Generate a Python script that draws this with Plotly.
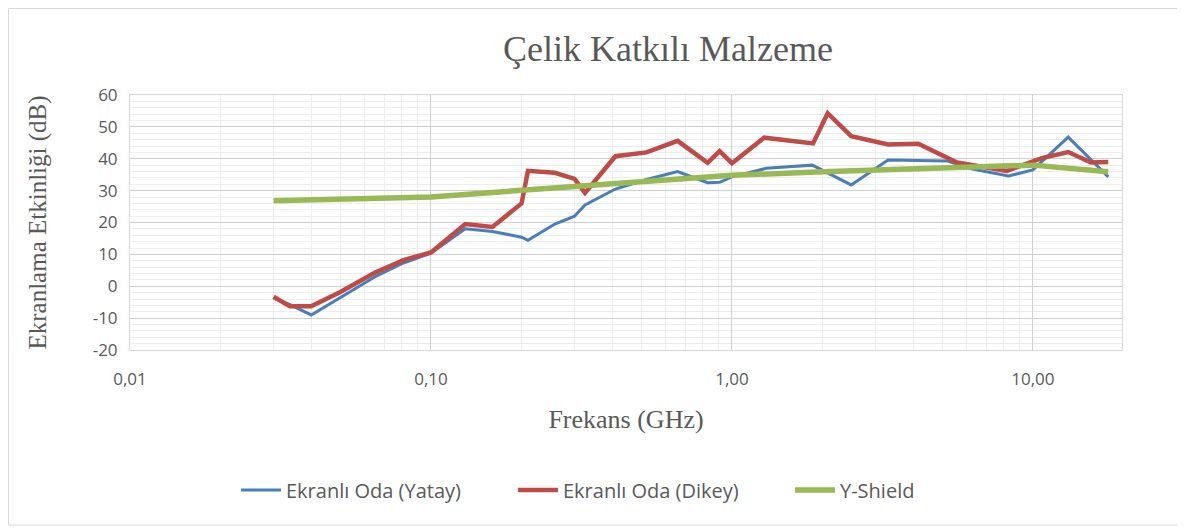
import plotly.graph_objects as go

# Data (frequency in GHz, shielding effectiveness in dB)
yatay_f = [0.03, 0.034, 0.04, 0.05, 0.065, 0.081, 0.1, 0.13, 0.16, 0.2, 0.21, 0.258, 0.30, 0.325, 0.41, 0.52, 0.66, 0.83, 0.91, 1.0, 1.3, 1.85, 2.49, 3.3, 5.2, 6.3, 8.3, 10.0, 13.1, 17.8]
yatay_v = [-3.7, -5.8, -9.0, -3.6, 2.9, 7.3, 10.4, 18.0, 17.2, 15.4, 14.4, 19.5, 22.0, 25.5, 30.5, 33.5, 36.0, 32.5, 32.6, 34.3, 37.0, 38.0, 31.8, 39.6, 39.3, 36.8, 34.6, 36.5, 46.8, 34.3]

dikey_f = [0.03, 0.034, 0.04, 0.05, 0.065, 0.081, 0.1, 0.13, 0.16, 0.2, 0.21, 0.258, 0.30, 0.325, 0.41, 0.52, 0.66, 0.83, 0.91, 1.0, 1.28, 1.86, 2.08, 2.49, 3.3, 4.16, 5.6, 8.2, 10.7, 13.1, 15.6, 17.8]
dikey_v = [-3.3, -6.3, -6.3, -1.8, 4.2, 8.2, 10.6, 19.5, 18.6, 26.0, 36.2, 35.6, 33.7, 29.3, 40.8, 42.0, 45.6, 38.7, 42.4, 38.6, 46.6, 44.8, 54.3, 47.1, 44.5, 44.7, 38.8, 36.2, 40.2, 42.1, 38.8, 39.0]

yshield_f = [0.03, 0.1, 0.2, 0.5, 1.0, 2.0, 5.0, 10.0, 17.8]
yshield_v = [26.8, 28.0, 30.1, 33.0, 34.8, 35.9, 37.0, 38.0, 35.9]

x_tickvals = [0.01, 0.1, 1, 10]
x_ticktext = ["0,01", "0,10", "1,00", "10,00"]
y_tickvals = [-20, -10, 0, 10, 20, 30, 40, 50, 60]
y_ticktext = ["-20", "-10", "0", "10", "20", "30", "40", "50", "60"]

TXT = "#595959"
SANS = "'Open Sans', Lato, sans-serif"
SERIF = "'Liberation Serif', 'DejaVu Serif', serif"

W, H = 1177, 523  # page has an 8px body margin
L, R, T, B = 122, 63, 87, 181
PW, PH = W - L - R, H - T - B

fig = go.Figure()
fig.add_trace(go.Scatter(x=yatay_f, y=yatay_v, mode="lines", name="Ekranlı Oda (Yatay)",
                         line=dict(color="#4a7ebb", width=3)))
fig.add_trace(go.Scatter(x=dikey_f, y=dikey_v, mode="lines", name="Ekranlı Oda (Dikey)",
                         line=dict(color="#be4b48", width=4.5)))
fig.add_trace(go.Scatter(x=yshield_f, y=yshield_v, mode="lines", name="Y-Shield",
                         line=dict(color="#98b954", width=5.5)))

fig.update_layout(
    width=W, height=H,
    margin=dict(l=L, r=R, t=T, b=B),
    paper_bgcolor="white", plot_bgcolor="white",
    title=dict(text="Çelik Katkılı Malzeme", x=660 / W, xanchor="center",
               y=1 - 40 / H, yanchor="middle",
               font=dict(family=SERIF, size=36, color=TXT)),
    showlegend=True,
    legend=dict(orientation="h", x=(236 - 130) / 992, xanchor="left", y=-0.549, yanchor="middle",
                font=dict(family=SANS, size=20, color=TXT), itemwidth=40,
                entrywidth=222, entrywidthmode="pixels",
                bgcolor="rgba(0,0,0,0)"),
    xaxis=dict(type="log", range=[-2, 1.296], tickvals=x_tickvals, ticktext=x_ticktext,
               showgrid=True, gridcolor="#d0d0d0", gridwidth=1,
               minor=dict(dtick="D1", showgrid=True, gridcolor="#ededed", gridwidth=1),
               showline=True, linecolor="#d9d9d9", mirror=True, ticks="", zeroline=False,
               tickfont=dict(family=SANS, size=17, color=TXT), ticklabelstandoff=14,
               title=dict(text="Frekans (GHz)", font=dict(family=SERIF, size=26, color=TXT),
                          standoff=20)),
    yaxis=dict(range=[-20, 60], tickvals=y_tickvals, ticktext=y_ticktext,
               showgrid=True, gridcolor="#cfcfcf", gridwidth=1,
               minor=dict(dtick=2, showgrid=True, gridcolor="#ededed", gridwidth=1),
               showline=True, linecolor="#d9d9d9", mirror=True, ticks="", zeroline=False,
               tickfont=dict(family=SANS, size=17, color=TXT), ticklabelstandoff=8,
               title=dict(text="Ekranlama Etkinliği (dB)", font=dict(family=SERIF, size=25, color=TXT),
                          standoff=38)),
)

# outer chart border
fig.add_shape(type="rect", xref="paper", yref="paper",
              x0=(0.5 - L) / PW, x1=(1170 - L) / PW,
              y0=(PH + T - 517) / PH, y1=(PH + T - 0.5) / PH,
              line=dict(color="#d9d9d9", width=1), fillcolor="rgba(0,0,0,0)", layer="below")

fig.write_html("out.html")
